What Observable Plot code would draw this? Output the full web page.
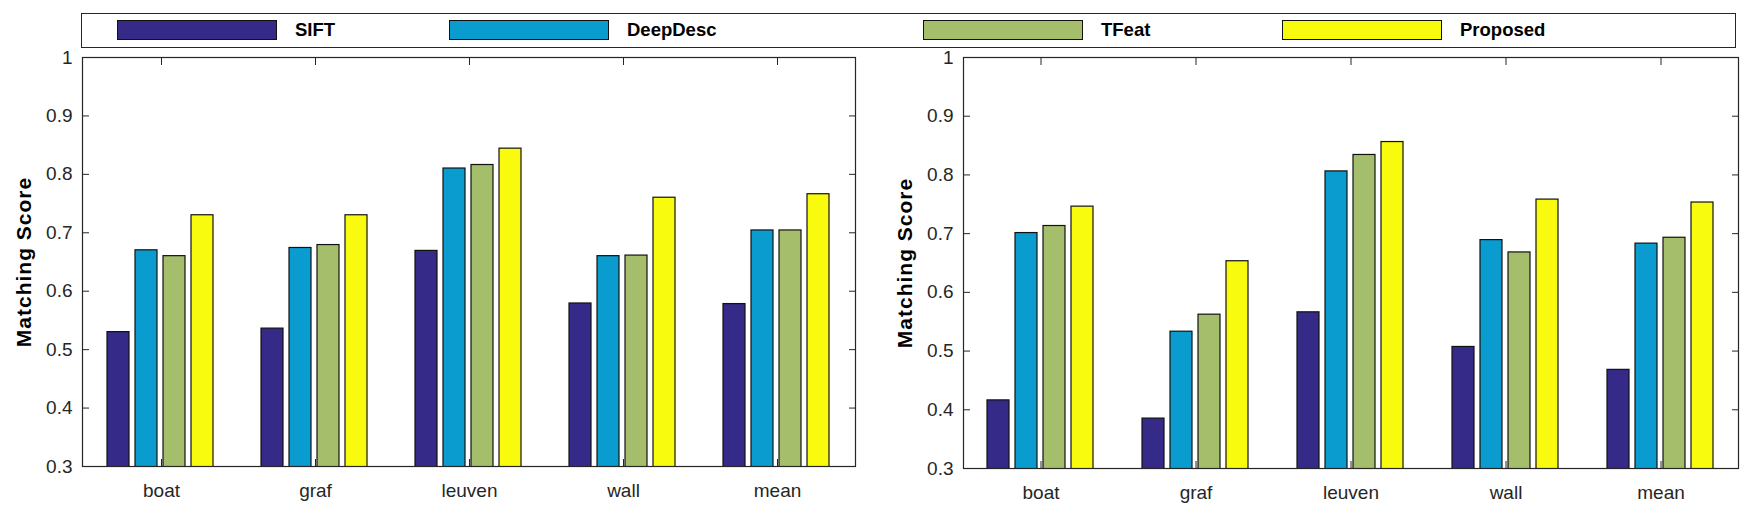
<!DOCTYPE html>
<html>
<head>
<meta charset="utf-8">
<script src="https://cdn.jsdelivr.net/npm/d3@7"></script>
<script src="https://cdn.jsdelivr.net/npm/@observablehq/plot@0.6"></script>
<style>
  html, body { margin: 0; padding: 0; background: #fff; }
  #root { position: relative; width: 1752px; height: 512px; background: #fff; font-family: "Liberation Sans", Arial, sans-serif; overflow: hidden; }
  #legend { position: absolute; left: 81px; top: 13px; width: 1655px; height: 35px; box-sizing: border-box; border: 1.2px solid #262626; }
  .sw { position: absolute; top: 6px; height: 20px; width: 160px; box-sizing: border-box; border: 1.2px solid #111; }
  .lt { position: absolute; top: 6px; line-height: 20px; font-size: 18.5px; font-weight: 700; color: #000; }
  .layer { position: absolute; top: 0; left: 0; }
  .panel { position: absolute; top: 48px; height: 464px; }
  g[aria-label="y-axis label"] text { font-weight: 700; font-size: 21px; letter-spacing: 1px; fill: #000; }
</style>
</head>
<body>
<div id="root">
  <div id="legend"></div>
  <div id="left" class="panel" style="left:0px;width:880px"></div>
  <div id="right" class="panel" style="left:880px;width:872px"></div>
</div>
<script>
// ---- data ----
const categories = ["boat", "graf", "leuven", "wall", "mean"];
const methods = ["SIFT", "DeepDesc", "TFeat", "Proposed"];
const colors = ["#352a87", "#0a9bcf", "#a5be6b", "#f9fb0e"];
const yTicks = [0.3, 0.4, 0.5, 0.6, 0.7, 0.8, 0.9, 1];
const yLabel = "Matching Score";

// left panel
const leftSIFT     = [0.530, 0.536, 0.669, 0.579, 0.578];
const leftDeepDesc = [0.670, 0.674, 0.810, 0.660, 0.704];
const leftTFeat    = [0.660, 0.679, 0.816, 0.661, 0.704];
const leftProposed = [0.730, 0.730, 0.844, 0.760, 0.766];

// right panel
const rightSIFT     = [0.416, 0.385, 0.566, 0.507, 0.468];
const rightDeepDesc = [0.701, 0.533, 0.806, 0.689, 0.683];
const rightTFeat    = [0.713, 0.562, 0.834, 0.668, 0.693];
const rightProposed = [0.746, 0.653, 0.856, 0.758, 0.753];

// ---- layout ----
const legendSwatchLeft = [35, 367, 841, 1200]; // relative to legend box
const legendSwatchWidth = 160;
const legendTextGap = 18;

function table(series) {
  return series.flatMap((vals, si) =>
    vals.map((v, ci) => ({category: categories[ci], method: methods[si], value: v})));
}

const leftData = table([leftSIFT, leftDeepDesc, leftTFeat, leftProposed]);
const rightData = table([rightSIFT, rightDeepDesc, rightTFeat, rightProposed]);

const H = 464;

function barsLayer(data, m) {
  return Plot.plot({
    width: m.width, height: H,
    marginLeft: m.left, marginRight: m.right, marginTop: m.top, marginBottom: m.bottom,
    style: {background: "transparent"},
    fx: {domain: categories, paddingInner: 0.268, paddingOuter: 0.134, axis: null, label: null},
    x: {domain: methods, paddingInner: 0.2, paddingOuter: 0.1, axis: null, label: null},
    y: {domain: [0.3, 1], axis: null},
    color: {domain: methods, range: colors},
    marks: [
      Plot.barY(data, {fx: "category", x: "method", y: "value", fill: "method",
        stroke: "#111", strokeWidth: 1.2, clip: true})
    ]
  });
}

function axesLayer(m) {
  return Plot.plot({
    width: m.width, height: H,
    marginLeft: m.left, marginRight: m.right, marginTop: m.top, marginBottom: m.bottom,
    style: {background: "transparent", fontFamily: "'Liberation Sans', Arial, sans-serif", fontSize: "19px", color: "#262626"},
    x: {type: "band", domain: categories, padding: 0},
    y: {domain: [0.3, 1]},
    marks: [
      Plot.frame({stroke: "#262626", strokeWidth: 1.2}),
      Plot.axisY(yTicks, {anchor: "left", tickSize: -7, tickPadding: 17, tickFormat: d3.format("~g"),
        label: yLabel, labelArrow: "none", labelAnchor: "center", labelOffset: 66}),
      Plot.axisY(yTicks, {anchor: "right", tickSize: -7, tickFormat: () => "", label: null}),
      Plot.axisX(categories, {anchor: "bottom", tickSize: -7, tickPadding: 24, label: null}),
      Plot.axisX(categories, {anchor: "top", tickSize: -7, tickFormat: () => "", label: null})
    ]
  });
}

function mount(id, data, m) {
  const el = document.getElementById(id);
  const b = barsLayer(data, m); b.classList.add("layer");
  const a = axesLayer(m); a.classList.add("layer");
  el.appendChild(b);
  el.appendChild(a);
}

mount("left", leftData, {width: 880, left: 82, right: 25, top: 9, bottom: 46});
mount("right", rightData, {width: 872, left: 83, right: 14, top: 9, bottom: 44});

// legend
const legend = document.getElementById("legend");
methods.forEach((name, i) => {
  const sw = document.createElement("div");
  sw.className = "sw";
  sw.style.left = legendSwatchLeft[i] + "px";
  sw.style.width = legendSwatchWidth + "px";
  sw.style.background = colors[i];
  legend.appendChild(sw);
  const t = document.createElement("div");
  t.className = "lt";
  t.style.left = (legendSwatchLeft[i] + legendSwatchWidth + legendTextGap) + "px";
  t.textContent = name;
  legend.appendChild(t);
});
</script>
</body>
</html>
